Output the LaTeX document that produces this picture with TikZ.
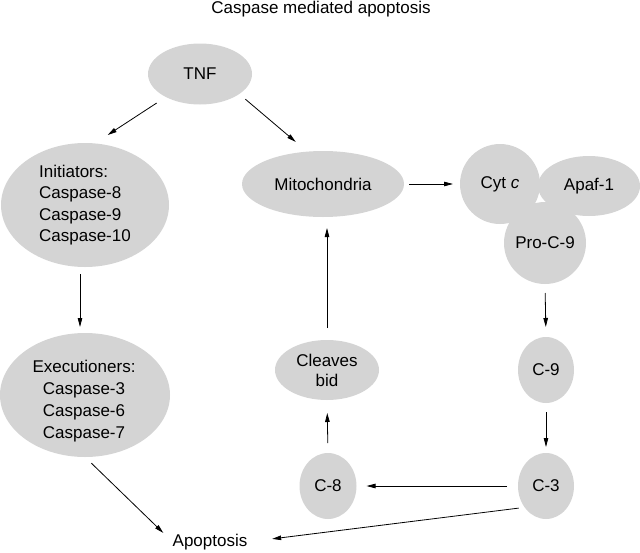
\documentclass[tikz,border=0pt]{standalone}
\usepackage{fontspec}
\setmainfont{Liberation Sans}
\usetikzlibrary{arrows.meta,shapes.geometric}
\definecolor{bubblegray}{RGB}{212,212,212}
\tikzset{
  bubble/.style={ellipse, fill=bubblegray, inner sep=0pt, outer sep=0pt, font=\fontsize{17}{21.5}\selectfont},
  roundbubble/.style={circle, fill=bubblegray, inner sep=0pt, outer sep=0pt, font=\fontsize{17}{21.5}\selectfont},
  txt/.style={inner sep=0pt, outer sep=0pt, font=\fontsize{17}{21.5}\selectfont},
  arr/.style={-{Triangle[length=9pt,width=4.5pt]}, line width=0.8pt, black},
}
\begin{document}
\begin{tikzpicture}[x=1pt,y=-1pt]
\useasboundingbox (0,0) rectangle (640,552);
% title
\node[txt] (title) at (321,9) {Caspase mediated apoptosis};
% left branch
\node[bubble, minimum width=104, minimum height=61] (tnf) at (200,74) {TNF};
\node[bubble, minimum width=168, minimum height=124, align=left] (init) at (85,205) {Initiators:\\Caspase-8\\Caspase-9\\Caspase-10};
\node[bubble, minimum width=170, minimum height=124] (exec) at (85,395) {};
\node[txt, align=center, font=\fontsize{17}{21.8}\selectfont] (exectxt) at (84,401) {Executioners:\\Caspase-3\\Caspase-6\\Caspase-7};
\node[txt] (apop) at (210,542) {Apoptosis};
% right side
\node[bubble, minimum width=162, minimum height=66] (mito) at (323,184) {Mitochondria};
\node[bubble, minimum width=102, minimum height=60] (apaf) at (589,186) {Apaf-1};
\node[roundbubble, minimum size=80] (cytc) at (500,184) {Cyt \textit{c}};
\node[roundbubble, minimum size=82] (proc9) at (545,243) {Pro-C-9};
\node[bubble, minimum width=56, minimum height=66] (c9) at (546,370) {C-9};
\node[bubble, minimum width=56, minimum height=66] (c3) at (546,486) {C-3};
\node[bubble, minimum width=57, minimum height=66] (c8) at (328,486) {C-8};
\node[bubble, minimum width=104, minimum height=60, align=center, font=\fontsize{17}{20}\selectfont] (bid) at (327,370) {Cleaves\\bid};
% connectors
\draw[arr, shorten <=11pt, shorten >=15.5pt] (tnf.214) -- (init.81);
\draw[arr, shorten <=8pt, shorten >=15pt] (tnf.333) -- (mito.116);
\draw[arr, shorten <=7pt, shorten >=6pt] ([xshift=-5pt]init.south) -- ([xshift=-5pt]exec.north);
\draw[arr, shorten <=9pt, shorten >=13pt] (exec.south) -- (apop.west);
\draw[arr, shorten <=5pt, shorten >=7pt] (mito.east) -- (cytc.west);
\draw[arr, shorten <=9pt, shorten >=10pt] (proc9.south) -- (c9.north);
\draw[arr, shorten <=9pt, shorten >=6pt] (c9.south) -- (c3.north);
\draw[arr, shorten <=11pt, shorten >=10pt] (c3.west) -- (c8.east);
\draw[arr, shorten <=10pt, shorten >=13pt] (c8.north) -- (bid.south);
\draw[arr, shorten <=12pt, shorten >=11pt] (bid.north) -- (bid.north |- mito.south);
\draw[arr, shorten <=6pt, shorten >=25pt] (c3.225) -- (apop.east);
\end{tikzpicture}
\end{document}
